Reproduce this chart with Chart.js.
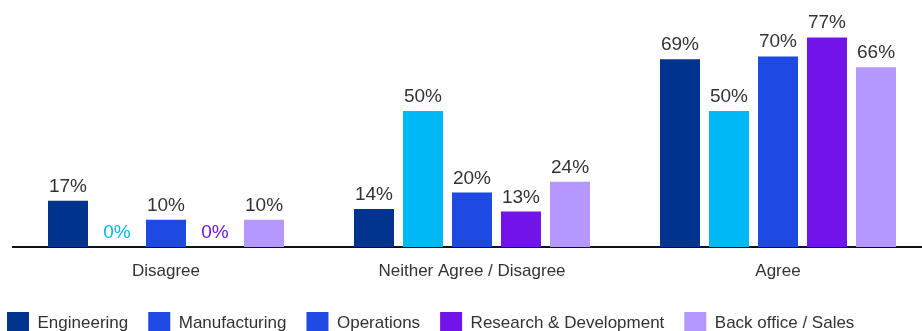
<!DOCTYPE html>
<html>
<head>
<meta charset="utf-8">
<script src="https://cdn.jsdelivr.net/npm/chart.js@4/dist/chart.umd.min.js"></script>
<style>
  html, body { margin: 0; padding: 0; background: #fff; }
  #wrap { width: 922px; height: 331px; overflow: hidden; }
  canvas { display: block; }
</style>
</head>
<body>
<div id="wrap"><canvas id="chart" width="934" height="344"></canvas></div>
<script>
// Survey responses by function (%)
const categories = ['Disagree', 'Neither Agree / Disagree', 'Agree'];
const seriesNames = ['Engineering', 'Manufacturing', 'Operations', 'Research & Development', 'Back office / Sales'];
const engineering = [17, 14, 69];
const manufacturing = [0, 50, 50];
const operations = [10, 20, 70];
const researchDev = [0, 13, 77];
const backOffice = [10, 24, 66];

const barColors = ['#00338d', '#00b8f5', '#1e49e2', '#7213ea', '#b497ff'];
// legend swatches (Manufacturing is shown in the Operations blue)
const legendColors = ['#00338d', '#1e49e2', '#1e49e2', '#7213ea', '#b497ff'];
const textColor = '#333';
const fontFamily = '"Liberation Sans", Arial, sans-serif';

const seriesValues = [engineering, manufacturing, operations, researchDev, backOffice];

// value labels above each bar; zero values take the series colour
const valueLabels = {
    id: 'valueLabels',
    afterDatasetsDraw(chart) {
        const ctx = chart.ctx;
        ctx.save();
        ctx.font = '19px ' + fontFamily;
        ctx.textAlign = 'center';
        ctx.textBaseline = 'alphabetic';
        chart.data.datasets.forEach((ds, i) => {
            chart.getDatasetMeta(i).data.forEach((bar, j) => {
                const v = ds.data[j];
                ctx.fillStyle = v === 0 ? barColors[i] : textColor;
                ctx.fillText(v + '%', bar.x, bar.y - 9);
            });
        });
        ctx.restore();
    }
};

// pull the legend row out to the left edge
const legendShift = {
    id: 'legendShift',
    afterLayout(chart) {
        chart.legend.left -= 26;
    }
};

new Chart(document.getElementById('chart'), {
    type: 'bar',
    data: {
        labels: categories,
        datasets: seriesNames.map((name, i) => ({
            label: name,
            data: seriesValues[i],
            backgroundColor: barColors[i],
            borderWidth: 0,
            categoryPercentage: 0.8007,
            barPercentage: 0.8163
        }))
    },
    options: {
        responsive: false,
        animation: false,
        devicePixelRatio: 1,
        layout: { padding: { left: 13, right: 3, top: 2, bottom: 0 } },
        plugins: {
            legend: {
                position: 'bottom',
                align: 'start',
                labels: {
                    boxWidth: 22,
                    boxHeight: 22,
                    padding: 20,
                    color: textColor,
                    font: { size: 17, family: fontFamily },
                    generateLabels(chart) {
                        return chart.data.datasets.map((ds, i) => ({
                            text: ds.label,
                            fillStyle: legendColors[i],
                            strokeStyle: legendColors[i],
                            lineWidth: 0,
                            fontColor: textColor,
                            datasetIndex: i
                        }));
                    }
                }
            },
            tooltip: { enabled: false }
        },
        scales: {
            x: {
                grid: { drawOnChartArea: false, drawTicks: false },
                border: { color: '#111', width: 2 },
                ticks: {
                    color: textColor,
                    padding: 14,
                    font: { size: 17, family: fontFamily }
                },
                afterFit(scale) { scale.height = 45; }
            },
            y: {
                display: false,
                min: 0,
                max: 90
            }
        }
    },
    plugins: [valueLabels, legendShift]
});
</script>
</body>
</html>
